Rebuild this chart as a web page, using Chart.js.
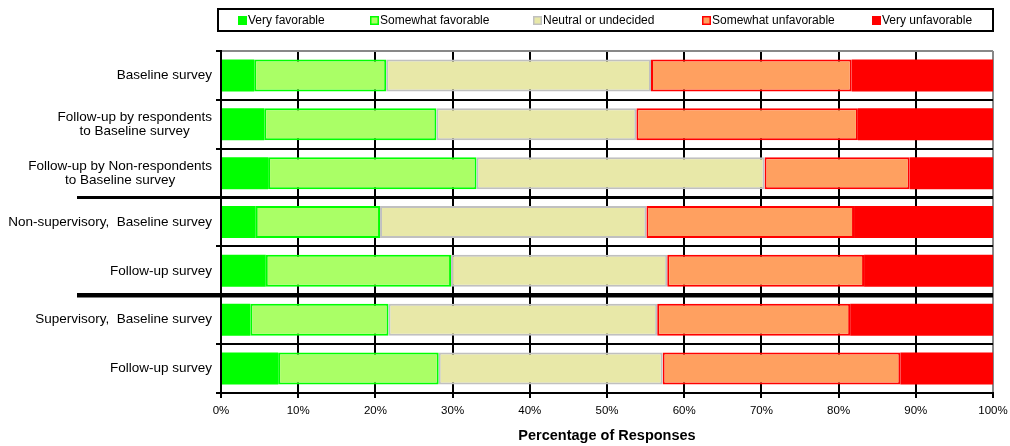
<!DOCTYPE html>
<html>
<head>
<meta charset="utf-8">
<script src="https://cdn.jsdelivr.net/npm/chart.js@4/dist/chart.umd.min.js"></script>
<style>
  html, body { margin: 0; padding: 0; background: #fff; }
  #wrap { width: 1010px; height: 446px; }
</style>
</head>
<body>
<div id="wrap"><canvas id="surveyChart" width="1010" height="446"></canvas></div>
<script>
// Survey groups, top to bottom
var categories = [
    ['Baseline survey'],
    ['Follow-up by respondents', 'to Baseline survey'],
    ['Follow-up by Non-respondents', 'to Baseline survey'],
    ['Non-supervisory,  Baseline survey'],
    ['Follow-up survey'],
    ['Supervisory,  Baseline survey'],
    ['Follow-up survey']
];

var seriesNames = ['Very favorable', 'Somewhat favorable', 'Neutral or undecided', 'Somewhat unfavorable', 'Very unfavorable'];

// Share of responses (%) per group
var veryFavorable       = [4.3, 5.6, 6.1, 4.5, 5.8, 3.8, 7.4];
var somewhatFavorable   = [17.1, 22.3, 27.0, 16.1, 24.0, 17.9, 20.8];
var neutral             = [34.3, 25.9, 37.3, 34.5, 28.0, 34.8, 29.0];
var somewhatUnfavorable = [26.0, 28.7, 18.8, 26.9, 25.5, 25.0, 30.8];
var veryUnfavorable     = [18.3, 17.5, 10.8, 18.0, 16.7, 18.5, 12.0];

var xTicks = [0, 10, 20, 30, 40, 50, 60, 70, 80, 90, 100];

var FONT = '"Liberation Sans", Arial, Helvetica, sans-serif';

// fill / border per series
var fills   = ['#00ff00', '#aaff66', '#e8e8a8', '#ffa060', '#ff0000'];
var borders = ['#00ff00', '#00ff00', '#c0c0c0', '#ff0000', '#ff0000'];
var values  = [veryFavorable, somewhatFavorable, neutral, somewhatUnfavorable, veryUnfavorable];

var datasets = seriesNames.map(function (name, i) {
    return {
        label: name,
        data: values[i],
        backgroundColor: fills[i],
        borderColor: borders[i],
        borderWidth: (i === 0 || i === 4) ? 0 : 2,
        borderSkipped: false,
        barPercentage: 0.655,
        categoryPercentage: 1
    };
});

// legend strip across the top, boxed
var legendX = [238, 370, 533, 702, 872];
var legendBox = {
    id: 'legendBox',
    afterDraw: function (chart) {
        var ctx = chart.ctx;
        ctx.save();
        ctx.strokeStyle = '#000';
        ctx.lineWidth = 2;
        ctx.strokeRect(218, 9, 775, 22);
        ctx.font = '12px ' + FONT;
        ctx.textBaseline = 'middle';
        ctx.textAlign = 'left';
        seriesNames.forEach(function (name, i) {
            var x = legendX[i];
            ctx.fillStyle = fills[i];
            ctx.fillRect(x, 16, 9, 9);
            if (i > 0 && i < 4) {
                ctx.strokeStyle = borders[i];
                ctx.lineWidth = 1.5;
                ctx.strokeRect(x + 0.75, 16.75, 7.5, 7.5);
            }
            ctx.fillStyle = '#000';
            ctx.fillText(name, x + 10, 20.5);
        });
        ctx.restore();
    }
};

// category labels (multi-line ones centred on themselves) and group separators
var groupLabels = {
    id: 'groupLabels',
    afterDraw: function (chart) {
        var ctx = chart.ctx;
        var y = chart.scales.y;
        var area = chart.chartArea;
        ctx.save();
        ctx.font = '13.5px ' + FONT;
        ctx.fillStyle = '#000';
        ctx.textBaseline = 'middle';
        categories.forEach(function (lines, i) {
            var cy = y.getPixelForValue(i);
            var widest = Math.max.apply(null, lines.map(function (l) { return ctx.measureText(l).width; }));
            var cx = 212 - widest / 2;
            var lh = 14.5;
            lines.forEach(function (l, j) {
                ctx.textAlign = lines.length > 1 ? 'center' : 'right';
                var tx = lines.length > 1 ? cx : 212;
                ctx.fillText(l, tx, cy + (j - (lines.length - 1) / 2) * lh);
            });
        });
        // separators between the survey groups
        ctx.strokeStyle = '#000';
        [[2, 3], [4, 4.5]].forEach(function (s) {
            var py = (y.getPixelForValue(s[0]) + y.getPixelForValue(s[0] + 1)) / 2;
            ctx.lineWidth = s[1];
            ctx.beginPath();
            ctx.moveTo(77, py);
            ctx.lineTo(area.right, py);
            ctx.stroke();
        });
        ctx.restore();
    }
};

var ctx = document.getElementById('surveyChart').getContext('2d');

var surveyChart = new Chart(ctx, {
    type: 'bar',
    data: { labels: categories, datasets: datasets },
    options: {
        indexAxis: 'y',
        responsive: false,
        animation: false,
        layout: { padding: { top: 51, right: 17, left: 0, bottom: 0 } },
        plugins: {
            legend: { display: false },
            tooltip: { enabled: false }
        },
        scales: {
            x: {
                stacked: true,
                min: 0,
                max: 100,
                afterBuildTicks: function (scale) {
                    scale.ticks = xTicks.map(function (v) { return { value: v }; });
                },
                afterFit: function (scale) {
                    scale.height = 53;
                    // the 100% label may hang into the right margin
                    scale.paddingLeft = 0;
                    scale.paddingRight = 0;
                },
                grid: {
                    color: function (c) { return c.index === xTicks.length - 1 ? '#888888' : '#000'; },
                    tickColor: '#000',
                    lineWidth: 2,
                    tickLength: 5
                },
                border: { color: '#000', width: 2 },
                ticks: {
                    padding: 6,
                    color: '#000',
                    font: { family: FONT, size: 11.5 },
                    callback: function (v) { return v + '%'; }
                },
                title: {
                    display: true,
                    text: 'Percentage of Responses',
                    color: '#000',
                    font: { family: FONT, size: 14.5, weight: 'bold' },
                    padding: { top: 0, bottom: 1 }
                }
            },
            y: {
                stacked: true,
                afterFit: function (scale) { scale.width = 221; },
                grid: {
                    offset: true,
                    color: function (c) { return c.index === 0 ? '#888888' : '#000'; },
                    tickColor: '#000',
                    lineWidth: 2,
                    tickLength: 5
                },
                border: { color: '#000', width: 2 },
                ticks: { display: false }
            }
        }
    },
    plugins: [legendBox, groupLabels]
});
</script>
</body>
</html>
